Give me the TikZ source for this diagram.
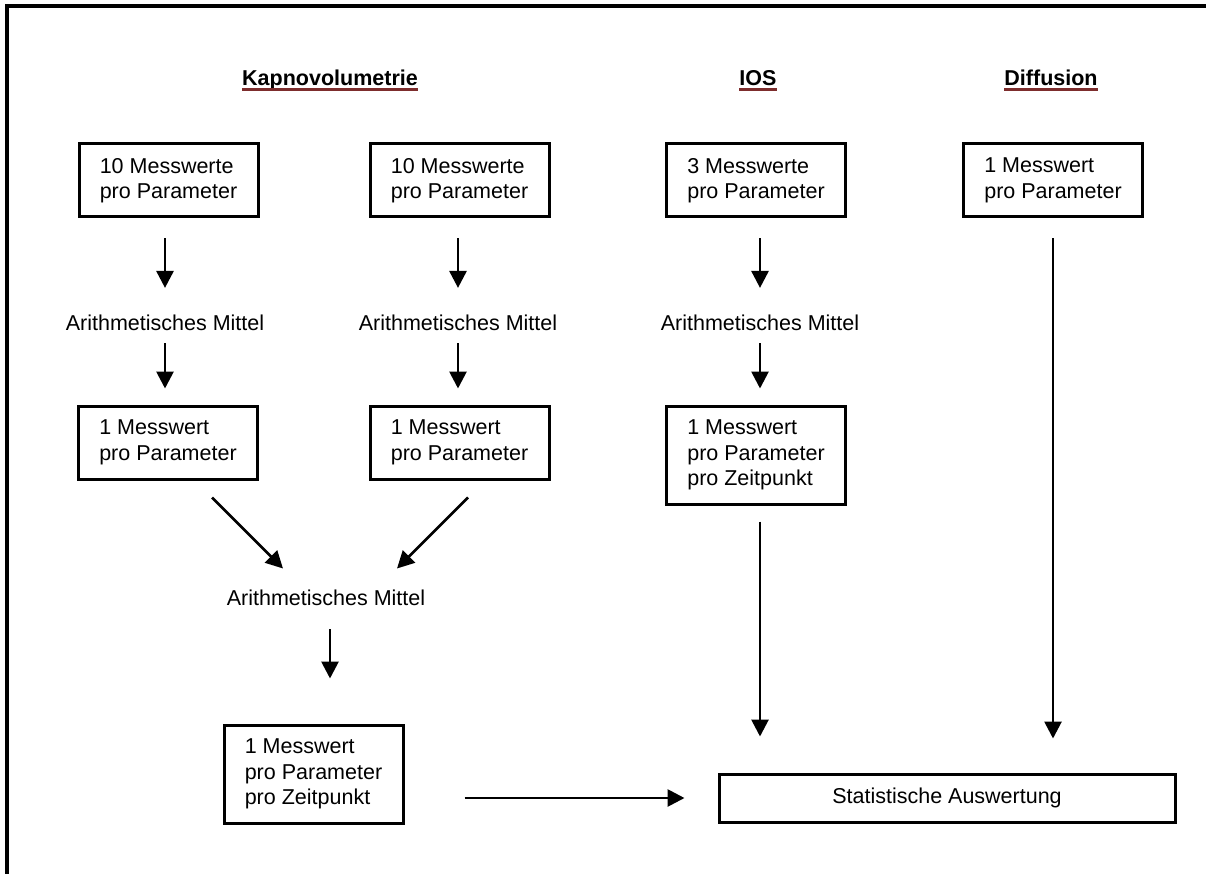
\documentclass[tikz,border=0pt]{standalone}
\usepackage{fontspec}
\setmainfont{Liberation Sans}
\usetikzlibrary{arrows.meta,calc}
\definecolor{ulred}{RGB}{125,45,45}
\tikzset{
  txt/.style={inner sep=0pt, font=\fontsize{21.5}{25.5}\selectfont},
  head/.style={inner sep=0pt, anchor=base, font=\fontsize{21.5}{25.5}\selectfont\bfseries},
  box/.style={draw, line width=3pt, minimum width=179pt, minimum height=73pt, align=left, inner sep=0pt, font=\fontsize{21.5}{25.5}\selectfont},
  arr/.style={line width=2.8pt, -{Triangle[length=17pt,width=17pt]}},
  uline/.style={draw=ulred, line width=2.2pt}
}
\begin{document}
\begin{tikzpicture}[x=1pt,y=-1pt]
\useasboundingbox (0,0) rectangle (1206,874);
\draw[line width=3.5pt] (7,874) -- (7,6) -- (1206,6);
% headings
\node[head] (hK) at (330,86) {Kapnovolumetrie};
\node[head] (hI) at (758,86) {IOS};
\node[head] (hD) at (1051,86) {Diffusion};
\foreach \h in {hK,hI,hD}{
  \draw[uline] ([yshift=-3.5pt]\h.base west) -- ([yshift=-3.5pt]\h.base east);
}
% top boxes
\node[box] (b1) at (168.5,180.5) {10 Messwerte\\pro Parameter};
\node[box] (b2) at (459.5,180.5) {10 Messwerte\\pro Parameter};
\node[box] (b3) at (756,180.5) {3 Messwerte\\pro Parameter};
\node[box] (b4) at (1053,180.5) {1 Messwert\\pro Parameter};
% mean labels
\node[txt] (m1) at (165,323) {Arithmetisches Mittel};
\node[txt] (m2) at (458,323) {Arithmetisches Mittel};
\node[txt] (m3) at (760,323) {Arithmetisches Mittel};
% second boxes
\node[box] (c1) at (168,442.5) {1 Messwert\\pro Parameter};
\node[box] (c2) at (459.5,442.5) {1 Messwert\\pro Parameter};
\node[box, minimum height=98pt] (c3) at (756,455) {1 Messwert\\pro Parameter\\pro Zeitpunkt};
% middle mean
\node[txt] (mm) at (326,598) {Arithmetisches Mittel};
% bottom boxes
\node[box, minimum height=98pt] (d) at (313.5,774) {1 Messwert\\pro Parameter\\pro Zeitpunkt};
\node[box, minimum width=456pt, minimum height=48pt, align=center] (s) at (947,798) {Statistische Auswertung};
% arrows columns
\foreach \b/\m/\c in {b1/m1/c1,b2/m2/c2,b3/m3/c3}{
  \draw[arr, shorten <=20pt, shorten >=27pt] (\m.north |- \b.south) -- (\m.north);
  \draw[arr, shorten <=12pt, shorten >=16pt] (\m.south) -- (\m.south |- \c.north);
}
% diagonals
\draw[arr] ([shift={(44,17)}]c1.south) -- ([shift={(115,88)}]c1.south);
\draw[arr] ([shift={(8.5,17)}]c2.south) -- ([shift={(-62.5,88)}]c2.south);
% middle down
\draw[arr, shorten <=23pt, shorten >=45pt] ([xshift=4pt]mm.south) -- ([xshift=4pt]mm.south |- d.north);
% IOS down
\draw[arr, shorten <=16pt, shorten >=36pt] ([xshift=4pt]c3.south) -- ([xshift=4pt]c3.south |- s.north);
% Diffusion down
\draw[arr, shorten <=20pt, shorten >=34pt] (b4.south) -- (b4.south |- s.north);
% horizontal
\draw[arr, shorten <=60pt, shorten >=33pt] ([yshift=-24pt]d.east) -- ([yshift=-24pt]d.east -| s.west);
\end{tikzpicture}
\end{document}
